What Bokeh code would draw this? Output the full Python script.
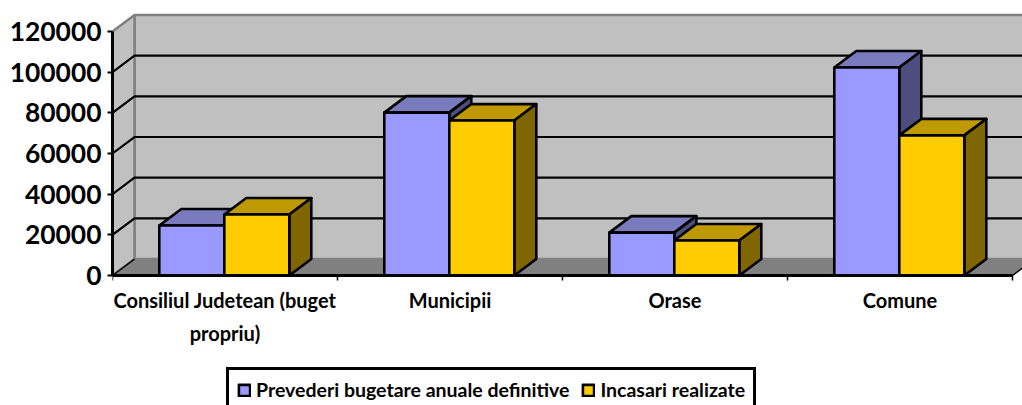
from bokeh.plotting import figure
from bokeh.embed import file_html
from bokeh.resources import INLINE
from bokeh.models import Range1d, FixedTicker, Legend, LegendItem

categories = ["Consiliul Judetean (buget\npropriu)", "Municipii", "Orase", "Comune"]
series_names = ["Prevederi bugetare anuale definitive", "Incasari realizate"]
prevederi = [24600, 80100, 21100, 102300]
incasari = [30000, 76200, 17200, 68900]
y_ticks = [0, 20000, 40000, 60000, 80000, 100000, 120000]

FONT = "Lato"
dx = 22 / 225       # depth in category units
dy = 8100           # depth in value units
w = 65 / 225        # bar width
shift = -0.7 / 225  # bar group nudge
x0, x1 = 0.5, 4.5
ymax = y_ticks[-1]

p = figure(width=1022, height=405, output_backend="svg", toolbar_location=None,
           x_range=Range1d(0.5, 0.5 + 910 / 225), y_range=Range1d(-63930, 129334),
           min_border_left=112, min_border_right=0, min_border_top=12, min_border_bottom=0)
p.outline_line_color = None
p.grid.visible = False
p.background_fill_color = "white"

# Floor and walls
p.patch([x0, x1, x1 + dx, x0 + dx], [0, 0, dy, dy], fill_color="#808080", line_color="#808080", line_width=1)
p.patch([x0 + dx, x1 + dx, x1 + dx, x0 + dx], [dy, dy, ymax + dy, ymax + dy],
        fill_color="#C0C0C0", line_color="#808080", line_width=2.5)
p.patch([x0, x0 + dx, x0 + dx, x0], [0, dy, ymax + dy, ymax],
        fill_color="#C0C0C0", line_color="#808080", line_width=2.5)

# Gridlines
grid_vals = y_ticks[1:-1]
p.multi_line([[x0, x0 + dx, x1 + dx] for _ in grid_vals],
             [[v, v + dy, v + dy] for v in grid_vals], line_color="black", line_width=2.2)
p.multi_line([[x0, x0 + dx], [x1, x1 + dx]], [[0, dy], [0, dy]], line_color="black", line_width=1.5)

def bar_parts(values, offset):
    left = [i + 1 + offset + shift for i in range(len(values))]
    front_x = [[l, l + w, l + w, l] for l in left]
    front_y = [[0, 0, v, v] for v in values]
    top_x = [[l, l + w, l + w + dx, l + dx] for l in left]
    top_y = [[v, v, v + dy, v + dy] for v in values]
    side_x = [[l + w, l + w + dx, l + w + dx, l + w] for l in left]
    side_y = [[0, dy, v + dy, v] for v in values]
    return front_x, front_y, top_x, top_y, side_x, side_y

renderers = []
for values, offset, cols in [(prevederi, -w, ("#9999FF", "#7A7ABF", "#4D4D80")),
                             (incasari, 0, ("#FFCC00", "#BF9900", "#806600"))]:
    fx, fy, tx, ty, sx, sy = bar_parts(values, offset)
    p.patches(tx, ty, fill_color=cols[1], line_color="black", line_width=2.6, line_join="round")
    p.patches(sx, sy, fill_color=cols[2], line_color="black", line_width=2.6, line_join="round")
    renderers.append(p.patches(fx, fy, fill_color=cols[0], line_color="black", line_width=2.6, line_join="round"))

# Axes
xa = p.xaxis[0]
xa.fixed_location = 0
centers = [i + 1 for i in range(len(categories))]
xa.ticker = FixedTicker(ticks=centers, minor_ticks=[x0 + i for i in range(len(categories) + 1)])
xa.major_label_overrides = {c: t for c, t in zip(centers, categories)}
xa.bounds = (x0, x1)
xa.axis_line_color = "black"
xa.axis_line_width = 3
xa.major_tick_in = 0
xa.major_tick_out = 0
xa.minor_tick_in = 0
xa.minor_tick_out = 5
xa.minor_tick_line_width = 1.5
xa.minor_tick_line_color = "black"
xa.major_label_standoff = 8
xa.major_label_text_font = FONT
xa.major_label_text_font_style = "bold"
xa.major_label_text_font_size = "20px"
xa.major_label_text_color = "black"
xa.major_label_text_line_height = 1.35

ya = p.yaxis[0]
ya.ticker = FixedTicker(ticks=y_ticks, minor_ticks=[])
ya.bounds = (0, ymax)
ya.axis_line_color = "black"
ya.axis_line_width = 3
ya.major_tick_in = 0
ya.major_tick_out = 5
ya.major_tick_line_width = 2
ya.major_tick_line_color = "black"
ya.major_label_standoff = 6
ya.major_label_text_font = FONT
ya.major_label_text_font_style = "bold"
ya.major_label_text_font_size = "26.4px"
ya.major_label_text_color = "black"
ya.formatter.use_scientific = False

legend = Legend(items=[LegendItem(label=n, renderers=[r]) for n, r in zip(series_names, renderers)],
                location=(114, -7), orientation="horizontal",
                border_line_color="black", border_line_alpha=1, border_line_width=3,
                background_fill_color="white", background_fill_alpha=1,
                label_text_font=FONT, label_text_font_style="bold", label_text_font_size="19.5px",
                label_text_color="black", glyph_width=14, glyph_height=14, label_standoff=5,
                spacing=12, padding=8, margin=0)
p.add_layout(legend, "center")

open("out.html", "w").write(file_html(p, INLINE))
